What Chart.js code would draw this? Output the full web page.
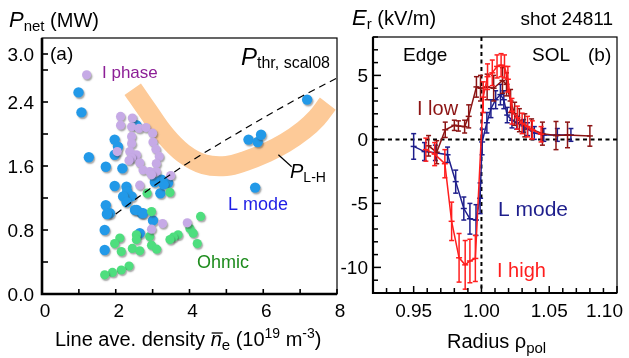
<!DOCTYPE html>
<html><head><meta charset="utf-8">
<script src="https://cdn.jsdelivr.net/npm/chart.js@4"></script>
<style>
html,body{margin:0;padding:0;background:#fff;}
#wrap{position:relative;width:629px;height:358px;overflow:hidden;background:#fff;}
#c1{position:absolute;left:0;top:0;width:345px;height:358px;}
#c2{position:absolute;left:320px;top:0;width:309px;height:358px;}
</style></head><body>
<div id="wrap"><canvas id="c1" width="345" height="358"></canvas><canvas id="c2" width="309" height="358"></canvas></div>
<script>
// ---------- Panel (a) data ----------
const lmodeN = [0.99,1.07,1.27,1.73,1.97,2.06,1.97,2.18,2.56,3.24,3.42,3.06,2.29,1.97,2.31,2.43,2.20,2.29,3.21,3.30,1.73,1.84,1.76,2.52,2.70,3.01,2.65,1.70,1.70,5.60,5.85,5.94,7.19,5.78,2.57,2.74];
const lmodeP = [2.52,2.27,1.71,1.59,1.93,1.84,1.74,1.57,2.11,1.43,1.39,1.40,1.34,1.35,1.28,1.22,1.22,1.15,1.26,1.37,1.11,1.01,1.00,1.05,1.01,0.92,0.76,0.80,0.55,1.93,1.90,1.99,2.43,1.33,1.05,1.01];
const iphaseN = [1.21,2.13,2.45,2.13,2.43,2.63,2.82,3.00,2.43,3.01,2.43,3.09,2.38,2.04,2.56,3.18,2.43,2.65,3.10,2.36,2.74,2.92,3.10,2.97,3.49,2.65,3.27,3.94,2.97];
const iphaseP = [2.74,2.22,2.20,2.11,2.09,2.07,2.08,2.01,1.97,1.90,1.88,1.81,1.78,1.78,1.74,1.72,1.70,1.64,1.63,1.67,1.55,1.53,1.53,1.49,1.48,1.36,0.88,0.89,0.81];
const ohmicN = [2.85,3.47,2.97,4.30,4.01,4.10,4.21,3.69,3.56,3.47,2.92,2.97,2.56,2.56,2.45,2.65,3.11,2.11,1.97,2.15,2.36,2.15,1.91,1.70];
const ohmicP = [1.26,1.27,1.03,0.97,0.82,0.76,0.63,0.74,0.71,0.68,0.72,0.61,0.74,0.68,0.57,0.54,0.56,0.70,0.63,0.53,0.35,0.30,0.27,0.24];
const plhN = [2.46,2.88,3.33,3.83,4.40,5.00,5.50,6.10,6.60,7.10,7.45,7.75];
const plhP = [2.56,2.28,1.99,1.76,1.62,1.60,1.66,1.77,1.89,2.05,2.20,2.38];
const thrN = [2.0,3.0,4.0,5.0,6.0,7.0,8.0];
const thrP = [1.00,1.34,1.65,1.93,2.20,2.46,2.70];
const aXTicks = [0,1,2,3,4,5,6,7,8];
const aXLabels = [0,2,4,6,8];
const aYTicks = [0,0.4,0.8,1.2,1.6,2.0,2.4,2.8,3.0];
const aYLabels = ["0.0","0.8","1.6","2.4","3.0"];

// ---------- Panel (b) data ----------
const lmodeR   = [0.950,0.958,0.966,0.975,0.981,0.987,0.9915,0.996,0.999,1.0005,1.004,1.007,1.0105,1.014,1.0165,1.019,1.0225,1.026,1.031,1.034,1.039,1.046,1.056,1.066];
const lmodeEr  = [-0.55,-0.95,-1.05,-1.2,-3.3,-5.4,-6.2,-6.3,-4.6,-0.2,1.3,2.4,3.1,3.5,3.1,1.9,1.5,1.3,1.05,0.8,0.5,0.35,0.35,0.35];
const lmodeErr = [1.0,0.7,0.6,0.6,0.9,0.9,1.2,1.2,1.2,1.0,0.8,0.7,0.7,0.8,0.7,0.6,0.6,0.5,0.5,0.5,0.5,0.5,0.5,0.5];
const ihighR   = [0.959,0.9655,0.973,0.978,0.9835,0.988,0.9915,0.9955,1.0013,1.0045,1.008,1.0115,1.0145,1.017,1.0195,1.0225,1.0265,1.030,1.034,1.0375,1.044];
const ihighEr  = [-0.8,-1.15,-1.9,-6.4,-9.25,-9.8,-9.5,-9.3,3.3,4.9,5.2,5.7,5.8,5.7,4.7,2.2,1.7,1.25,1.0,0.75,0.4];
const ihighErr = [0.9,0.9,1.1,1.5,1.9,1.9,1.7,1.8,1.2,1.0,1.0,0.9,0.9,0.9,1.0,1.0,0.9,0.8,0.8,0.7,0.6];
const ilowR    = [0.961,0.967,0.9733,0.980,0.983,0.9876,0.9906,0.9963,0.9993,1.0042,1.009,1.0155,1.0185,1.0215,1.0245,1.028,1.032,1.037,1.045,1.055,1.0635,1.080];
const ilowEr   = [-0.5,-1.0,0.75,1.1,1.05,1.0,1.8,4.1,4.0,4.1,4.0,4.6,4.3,3.0,2.0,1.5,1.1,0.8,0.45,0.3,0.35,0.27];
const ilowErr  = [0.8,0.9,0.6,0.4,0.4,0.5,0.9,0.8,1.0,1.0,1.0,1.0,0.9,0.9,0.9,0.9,0.9,0.8,0.9,1.1,1.0,0.8];
const bXTicks = [0.92,0.93,0.94,0.95,0.96,0.97,0.98,0.99,1.00,1.01,1.02,1.03,1.04,1.05,1.06,1.07,1.08,1.09,1.10];
const bXLabels = ["0.95","1.00","1.05","1.10"];
const bYLabels = [-10,-5,0,5];

// ---------- helpers ----------
const FF = '"Liberation Sans", Arial, Helvetica, sans-serif';
const F = (s, it) => (it ? 'italic ' : '') + s + 'px ' + FF;
const pts = (xs, ys) => xs.map((x, i) => ({x: x, y: ys[i]}));
function rich(ctx, x, y, segs, color) {
  let cx = x;
  for (const s of segs) {
    ctx.font = s.f; ctx.fillStyle = s.c || color || '#000';
    ctx.textAlign = 'left'; ctx.textBaseline = 'alphabetic';
    ctx.fillText(s.t, cx, y + (s.dy || 0));
    const w = ctx.measureText(s.t).width;
    if (s.over) { ctx.strokeStyle = s.c || color || '#000'; ctx.lineWidth = 1.3; ctx.beginPath(); ctx.moveTo(cx + 1, y - 13); ctx.lineTo(cx + w + 1, y - 13); ctx.stroke(); }
    cx += w + (s.kern || 0);
  }
  return cx;
}
function seg(ctx, x1, y1, x2, y2) { ctx.beginPath(); ctx.moveTo(x1, y1); ctx.lineTo(x2, y2); ctx.stroke(); }

const shadowPlugin = {
  id: 'shadow',
  beforeDatasetDraw(chart, args) {
    const ds = chart.data.datasets[args.index];
    if (ds.shadow) { const c = chart.ctx; c.save(); c.shadowColor = 'rgba(60,60,60,0.45)'; c.shadowOffsetX = 1.2; c.shadowOffsetY = 1.6; c.shadowBlur = 1.5; }
  },
  afterDatasetDraw(chart, args) {
    const ds = chart.data.datasets[args.index];
    if (ds.shadow) chart.ctx.restore();
  }
};

// ---------- Chart (a) ----------
const axesA = {
  id: 'axesA',
  afterDraw(chart) {
    const ctx = chart.ctx, a = chart.chartArea, xs = chart.scales.x, ys = chart.scales.y;
    ctx.save();
    ctx.strokeStyle = '#000';
    ctx.lineWidth = 1.2;
    seg(ctx, xs.getPixelForValue(6.41), ys.getPixelForValue(1.74), xs.getPixelForValue(6.77), ys.getPixelForValue(1.59));
    ctx.lineWidth = 1.2;
    ctx.strokeRect(a.left, a.top, a.right - a.left, a.bottom - a.top);
    ctx.lineWidth = 2.6;
    ctx.beginPath(); ctx.moveTo(a.left, a.top); ctx.lineTo(a.left, a.bottom); ctx.lineTo(a.right, a.bottom); ctx.stroke();
    ctx.lineWidth = 1.6;
    for (const v of aYTicks) { const py = ys.getPixelForValue(v); seg(ctx, a.left, py, a.left + 6, py); }
    for (const v of aXTicks) { const px = xs.getPixelForValue(v); seg(ctx, px, a.bottom, px, a.bottom - 5); }
    ctx.fillStyle = '#000';
    ctx.font = F(19); ctx.textAlign = 'right'; ctx.textBaseline = 'alphabetic';
    for (const l of aYLabels) { ctx.fillText(l, a.left - 8, ys.getPixelForValue(parseFloat(l)) + 7); }
    ctx.textAlign = 'center';
    for (const l of aXLabels) { ctx.fillText(String(l), xs.getPixelForValue(l) + 3, 317); }
    rich(ctx, 9, 27, [{t: 'P', f: F(22, true)}, {t: 'net', f: F(15), dy: 4}, {t: ' (MW)', f: F(20)}]);
    rich(ctx, 55, 346, [{t: 'Line ave. density ', f: F(20)}, {t: 'n', f: F(20, true), over: true}, {t: 'e', f: F(15), dy: 4}, {t: ' (10', f: F(20)}, {t: '19', f: F(14), dy: -8}, {t: ' m', f: F(20)}, {t: '-3', f: F(14), dy: -8}, {t: ')', f: F(20)}]);
    rich(ctx, 50, 60, [{t: '(a)', f: F(19)}]);
    rich(ctx, 102, 78, [{t: 'I phase', f: F(17), c: '#8c1e96'}]);
    rich(ctx, 241, 65, [{t: 'P', f: F(24, true)}, {t: 'thr, scal08', f: F(16), dy: 3}]);
    rich(ctx, 290, 178, [{t: 'P', f: F(20, true)}, {t: 'L-H', f: F(14), dy: 4}]);
    rich(ctx, 228, 210, [{t: 'L mode', f: F(18), c: '#1e1ee6'}]);
    rich(ctx, 197, 268, [{t: 'Ohmic', f: F(18), c: '#1e8c1e'}]);
    ctx.restore();
  }
};

new Chart(document.getElementById('c1'), {
  type: 'scatter',
  data: {
    datasets: [
      {type: 'line', data: pts(thrN, thrP), borderColor: '#000', borderWidth: 1.2, borderDash: [7, 5], pointRadius: 0, cubicInterpolationMode: 'monotone', fill: false, order: 0},
      {data: pts(iphaseN, iphaseP), backgroundColor: '#c6aae6', borderWidth: 0, pointRadius: 4.6, shadow: true, order: 1},
      {data: pts(ohmicN, ohmicP), backgroundColor: '#4ede7e', borderWidth: 0, pointRadius: 4.6, shadow: true, order: 2},
      {data: pts(lmodeN, lmodeP), backgroundColor: '#2299e8', borderWidth: 0, pointRadius: 5.2, shadow: true, order: 3},
      {type: 'line', data: pts(plhN, plhP), borderColor: '#fdca98', borderWidth: 20, borderCapStyle: 'butt', pointRadius: 0, tension: 0.4, fill: false, order: 10}
    ]
  },
  options: {
    responsive: false, animation: false, devicePixelRatio: 1,
    layout: {padding: {left: 42, right: 8, top: 38, bottom: 64}},
    scales: {x: {type: 'linear', min: 0, max: 8, display: false}, y: {type: 'linear', min: 0, max: 3.2, display: false}},
    plugins: {legend: {display: false}, tooltip: {enabled: false}}
  },
  plugins: [shadowPlugin, axesA]
});

// ---------- Chart (b) ----------
const errPlugin = {
  id: 'errbars',
  afterDatasetDraw(chart, args) {
    const ds = chart.data.datasets[args.index];
    if (!ds.errs) return;
    const ctx = chart.ctx, ys = chart.scales.y, meta = args.meta;
    ctx.save();
    ctx.strokeStyle = ds.borderColor; ctx.lineWidth = 1.5;
    meta.data.forEach((el, i) => {
      const v = ds.data[i].y, e = ds.errs[i];
      const y1 = ys.getPixelForValue(v - e), y2 = ys.getPixelForValue(v + e);
      seg(ctx, el.x, y1, el.x, y2);
      seg(ctx, el.x - 2.5, y1, el.x + 2.5, y1);
      seg(ctx, el.x - 2.5, y2, el.x + 2.5, y2);
    });
    ctx.restore();
  }
};
const OX = 25; // offset of canvas (b) relative to previous layout
const axesB = {
  id: 'axesB',
  beforeDatasetsDraw(chart) {
    const ctx = chart.ctx, a = chart.chartArea, xs = chart.scales.x, ys = chart.scales.y;
    ctx.save();
    ctx.strokeStyle = '#000'; ctx.lineWidth = 2; ctx.setLineDash([4, 3.5]);
    const y0 = ys.getPixelForValue(0), x0 = xs.getPixelForValue(1.0);
    seg(ctx, a.left, y0, a.right, y0);
    seg(ctx, x0, a.top, x0, a.bottom);
    ctx.restore();
  },
  afterDraw(chart) {
    const ctx = chart.ctx, a = chart.chartArea, xs = chart.scales.x, ys = chart.scales.y;
    ctx.save();
    ctx.strokeStyle = '#000';
    ctx.lineWidth = 1.2;
    ctx.strokeRect(a.left, a.top, a.right - a.left, a.bottom - a.top);
    ctx.lineWidth = 2.2;
    ctx.beginPath(); ctx.moveTo(a.left, a.top); ctx.lineTo(a.left, a.bottom); ctx.lineTo(a.right, a.bottom); ctx.stroke();
    ctx.lineWidth = 1.5;
    for (let v = -12; v <= 8; v++) { const py = ys.getPixelForValue(v); seg(ctx, a.left, py, a.left + (v % 5 === 0 ? 8 : 5), py); }
    bXTicks.forEach(v => { const px = xs.getPixelForValue(v); const maj = Math.abs(Math.round(v * 100) % 5) === 0; seg(ctx, px, a.bottom, px, a.bottom - (maj ? 7 : 5)); });
    ctx.fillStyle = '#000'; ctx.font = F(19); ctx.textBaseline = 'alphabetic';
    ctx.textAlign = 'right';
    for (const v of bYLabels) { ctx.fillText(String(v), a.left - 5, ys.getPixelForValue(v) + 7); }
    ctx.textAlign = 'left';
    for (const l of bXLabels) {
      const w = ctx.measureText(l).width;
      let px = xs.getPixelForValue(parseFloat(l)) - w / 2;
      px = Math.min(px, chart.width - w - 6);
      ctx.fillText(l, px, 317);
    }
    rich(ctx, 7 + OX, 25, [{t: 'E', f: F(22, true)}, {t: 'r', f: F(15), dy: 4}, {t: ' (kV/m)', f: F(20)}]);
    ctx.font = F(19); ctx.textAlign = 'right'; ctx.fillText('shot 24811', 268 + OX, 25);
    rich(ctx, 102 + OX, 348, [{t: 'Radius ', f: F(20)}, {t: 'ρ', f: F(20)}, {t: 'pol', f: F(15), dy: 5}]);
    rich(ctx, 58 + OX, 61, [{t: 'Edge', f: F(19)}]);
    rich(ctx, 187 + OX, 61, [{t: 'SOL', f: F(19)}]);
    rich(ctx, 243 + OX, 61, [{t: '(b)', f: F(19)}]);
    rich(ctx, 72 + OX, 115, [{t: 'I low', f: F(20), c: '#8c1414'}]);
    rich(ctx, 153 + OX, 216, [{t: 'L mode', f: F(21), c: '#1e1e8c'}]);
    rich(ctx, 152 + OX, 277, [{t: 'I high', f: F(20), c: '#ff1e1e'}]);
    ctx.restore();
  }
};
const lineDs = (xs, ys, es, col, ord) => ({data: pts(xs, ys), errs: es, showLine: true, borderColor: col, backgroundColor: col, borderWidth: 1.5, pointStyle: 'line', pointRadius: 3, pointBorderWidth: 1.5, pointBorderColor: col, tension: 0, fill: false, order: ord});
new Chart(document.getElementById('c2'), {
  type: 'scatter',
  data: {
    datasets: [
      lineDs(ihighR, ihighEr, ihighErr, '#ff1e1e', 0),
      lineDs(ilowR, ilowEr, ilowErr, '#8c1414', 1),
      lineDs(lmodeR, lmodeEr, lmodeErr, '#1e1e8c', 2)
    ]
  },
  options: {
    responsive: false, animation: false, devicePixelRatio: 1,
    layout: {padding: {left: 53, right: 12, top: 37, bottom: 65}},
    scales: {x: {type: 'linear', min: 0.92, max: 1.10, display: false}, y: {type: 'linear', min: -12, max: 8, display: false}},
    plugins: {legend: {display: false}, tooltip: {enabled: false}}
  },
  plugins: [axesB, errPlugin]
});
</script>
</body></html>
